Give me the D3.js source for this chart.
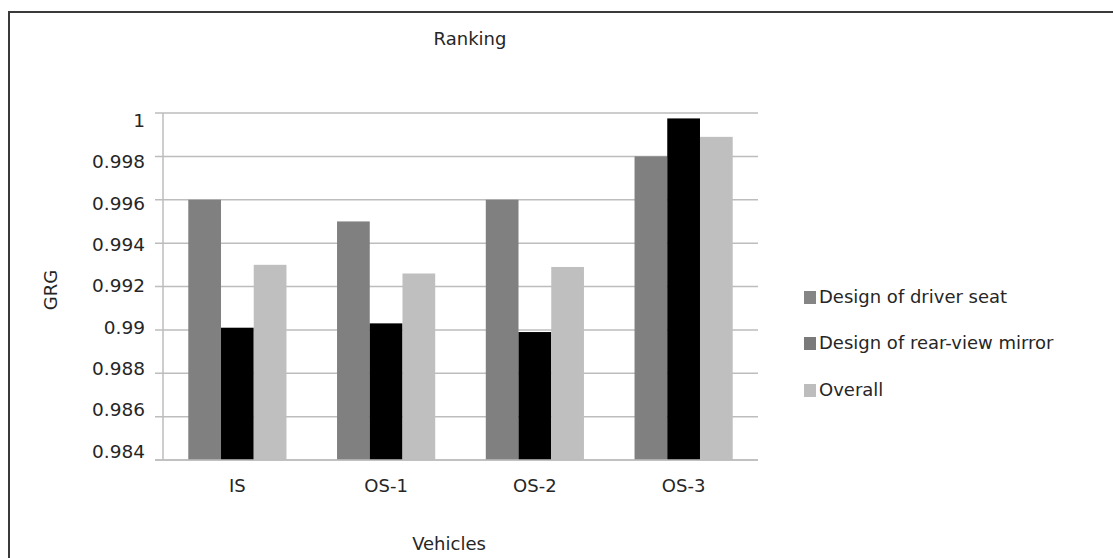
<!DOCTYPE html>
<html>
<head>
<meta charset="utf-8">
<script src="https://cdn.jsdelivr.net/npm/d3@7"></script>
<style>
  html, body { margin: 0; padding: 0; background: #fff; }
  svg { display: block; font-family: "DejaVu Sans", sans-serif; }
</style>
</head>
<body>
<svg id="chart" width="1113" height="558"></svg>
<script>
// ==================== DATA ====================
const categories = ['IS', 'OS-1', 'OS-2', 'OS-3'];
const seriesNames = ['Design of driver seat', 'Design of rear-view mirror', 'Overall'];
const seatValues = [0.996, 0.995, 0.996, 0.998];
const mirrorValues = [0.9901, 0.9903, 0.9899, 0.99975];
const overallValues = [0.993, 0.9926, 0.9929, 0.9989];
const yTicks = [0.984, 0.986, 0.988, 0.99, 0.992, 0.994, 0.996, 0.998, 1];
const barColors = ['#808080', '#000000', '#bfbfbf'];
const legendColors = ['#858585', '#7a7a7a', '#bdbdbd'];

const seriesValues = [seatValues, mirrorValues, overallValues];

// ==================== LAYOUT ====================
const svg = d3.select('#chart');
const plot = { left: 163, right: 758, top: 113, bottom: 460 };
const gridColor = '#bdbdbd';
const textColor = '#262626';

// outer frame (runs off the right and bottom edges)
svg.append('rect')
  .attr('x', 9).attr('y', 12)
  .attr('width', 1120).attr('height', 600)
  .attr('fill', 'none')
  .attr('stroke', '#3a3a3a')
  .attr('stroke-width', 2);

const x0 = d3.scaleBand()
  .domain(categories)
  .range([plot.left, plot.right])
  .paddingInner(0.34)
  .paddingOuter(0.17);

const x1 = d3.scaleBand()
  .domain(d3.range(seriesNames.length))
  .range([0, x0.bandwidth()]);

const y = d3.scaleLinear()
  .domain([0.984, 1])
  .range([plot.bottom, plot.top]);

// tick labels in the source sit on a slightly tighter spacing than the grid
const yLabel = d3.scaleLinear()
  .domain([0.984, 1])
  .range([451, 120.5]);

// gridlines + tick marks
svg.append('g')
  .selectAll('line')
  .data(yTicks)
  .join('line')
  .attr('x1', plot.left - 8)
  .attr('x2', plot.right)
  .attr('y1', (d) => y(d))
  .attr('y2', (d) => y(d))
  .attr('stroke', gridColor)
  .attr('stroke-width', 1.5);

// y axis line
svg.append('line')
  .attr('x1', plot.left).attr('x2', plot.left)
  .attr('y1', plot.top).attr('y2', plot.bottom)
  .attr('stroke', gridColor)
  .attr('stroke-width', 1.5);

// y tick labels
svg.append('g')
  .selectAll('text')
  .data(yTicks)
  .join('text')
  .attr('x', 145)
  .attr('y', (d) => yLabel(d))
  .attr('dy', '0.36em')
  .attr('text-anchor', 'end')
  .attr('font-size', '18.5px')
  .attr('fill', textColor)
  .text((d) => d3.format('')(d));

// bars
categories.forEach((cat, ci) => {
  seriesValues.forEach((vals, si) => {
    svg.append('rect')
      .attr('x', x0(cat) + x1(si))
      .attr('y', y(vals[ci]))
      .attr('width', x1.bandwidth())
      .attr('height', plot.bottom - y(vals[ci]))
      .attr('fill', barColors[si]);
  });
});

// x axis baseline drawn over the bars
svg.append('line')
  .attr('x1', plot.left - 8).attr('x2', plot.right)
  .attr('y1', plot.bottom).attr('y2', plot.bottom)
  .attr('stroke', gridColor)
  .attr('stroke-width', 1.5);

// x labels
svg.append('g')
  .selectAll('text')
  .data(categories)
  .join('text')
  .attr('x', (d) => x0(d) + x0.bandwidth() / 2)
  .attr('y', 492)
  .attr('text-anchor', 'middle')
  .attr('font-size', '18px')
  .attr('fill', textColor)
  .text((d) => d);

// titles
svg.append('text')
  .attr('x', 470).attr('y', 45)
  .attr('text-anchor', 'middle')
  .attr('font-size', '18px')
  .attr('fill', textColor)
  .text('Ranking');

svg.append('text')
  .attr('x', 449).attr('y', 550)
  .attr('text-anchor', 'middle')
  .attr('font-size', '18px')
  .attr('fill', textColor)
  .text('Vehicles');

svg.append('text')
  .attr('transform', 'translate(57, 290) rotate(-90)')
  .attr('text-anchor', 'middle')
  .attr('font-size', '18px')
  .attr('fill', textColor)
  .text('GRG');

// legend
const legendY = [297, 343, 390];
const legend = svg.append('g');
seriesNames.forEach((name, i) => {
  legend.append('rect')
    .attr('x', 804)
    .attr('y', legendY[i] - 6)
    .attr('width', 12)
    .attr('height', 13)
    .attr('fill', legendColors[i]);
  legend.append('text')
    .attr('x', 819)
    .attr('y', legendY[i] + 6)
    .attr('font-size', '18px')
    .attr('fill', textColor)
    .text(name);
});
</script>
</body>
</html>
